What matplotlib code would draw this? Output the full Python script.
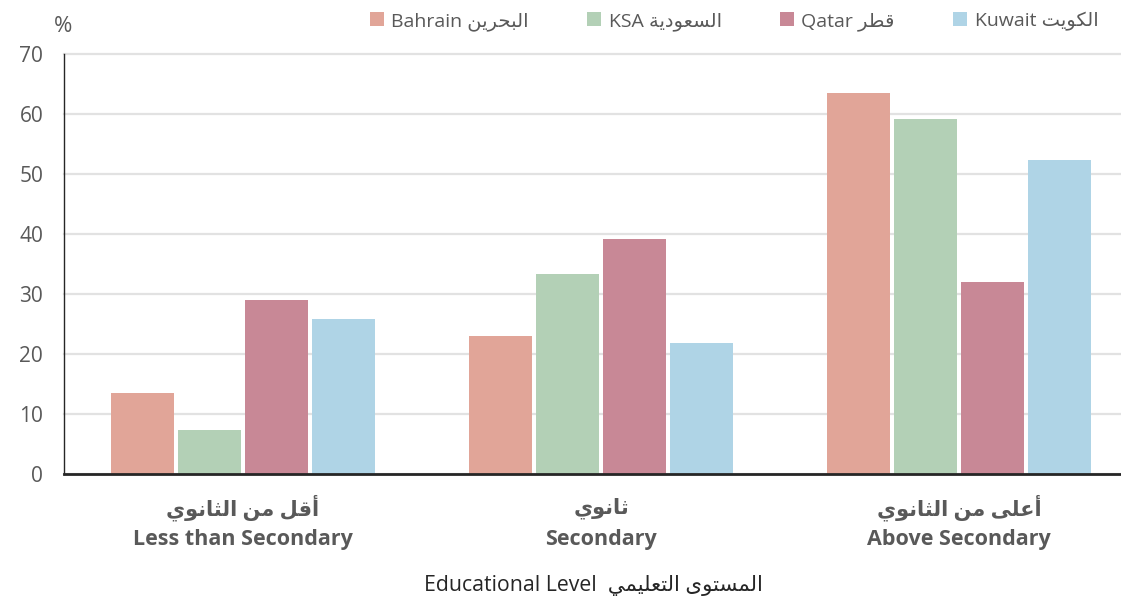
import matplotlib
matplotlib.use("Agg")
import matplotlib.pyplot as plt
import matplotlib.transforms as mtransforms
from matplotlib.patches import Patch
import numpy as np

plt.rcParams['font.family'] = ['Open Sans', 'DejaVu Sans']

# education level groups
levels_en = ["Less than Secondary", "Secondary", "Above Secondary"]
levels_ar = ["أقل من الثانوي", "ثانوي", "أعلى من الثانوي"]

# country series (%)
countries_en = ["Bahrain", "KSA", "Qatar", "Kuwait"]
countries_ar = ["البحرين", "السعودية", "قطر", "الكويت"]
bahrain = [13.5, 23.0, 63.5]
ksa = [7.4, 33.4, 59.1]
qatar = [29.0, 39.1, 32.0]
kuwait = [25.9, 21.8, 52.4]

colors = ["#E1A598", "#B3D0B6", "#C88896", "#AFD4E6"]
grey = "#595959"

# isolated, final, initial, medial presentation forms
FORMS = {
    "\u0627": (0xFE8D, 0xFE8E, None, None),
    "\u0623": (0xFE83, 0xFE84, None, None),
    "\u0628": (0xFE8F, 0xFE90, 0xFE91, 0xFE92),
    "\u0629": (0xFE93, 0xFE94, None, None),
    "\u062A": (0xFE95, 0xFE96, 0xFE97, 0xFE98),
    "\u062B": (0xFE99, 0xFE9A, 0xFE9B, 0xFE9C),
    "\u062D": (0xFEA1, 0xFEA2, 0xFEA3, 0xFEA4),
    "\u062F": (0xFEA9, 0xFEAA, None, None),
    "\u0631": (0xFEAD, 0xFEAE, None, None),
    "\u0633": (0xFEB1, 0xFEB2, 0xFEB3, 0xFEB4),
    "\u0637": (0xFEC1, 0xFEC2, 0xFEC3, 0xFEC4),
    "\u0639": (0xFEC9, 0xFECA, 0xFECB, 0xFECC),
    "\u0642": (0xFED5, 0xFED6, 0xFED7, 0xFED8),
    "\u0643": (0xFED9, 0xFEDA, 0xFEDB, 0xFEDC),
    "\u0644": (0xFEDD, 0xFEDE, 0xFEDF, 0xFEE0),
    "\u0645": (0xFEE1, 0xFEE2, 0xFEE3, 0xFEE4),
    "\u0646": (0xFEE5, 0xFEE6, 0xFEE7, 0xFEE8),
    "\u0648": (0xFEED, 0xFEEE, None, None),
    "\u0649": (0xFEEF, 0xFEF0, None, None),
    "\u064A": (0xFEF1, 0xFEF2, 0xFEF3, 0xFEF4),
}


# join arabic letters and put them in visual (left-to-right) order
def ar(text):
    out = []
    for i, ch in enumerate(text):
        if ch not in FORMS:
            out.append(ch)
            continue
        prev = text[i - 1] if i > 0 else ""
        nxt = text[i + 1] if i + 1 < len(text) else ""
        f = FORMS[ch]
        join_prev = prev in FORMS and FORMS[prev][2] is not None
        join_next = f[2] is not None and nxt in FORMS
        if join_prev and join_next:
            code = f[3]
        elif join_prev:
            code = f[1]
        elif join_next:
            code = f[2]
        else:
            code = f[0]
        out.append(chr(code))
    return "".join(reversed(out))


fig = plt.figure(figsize=(11.21, 6.05), dpi=100)
ax = fig.add_axes([64 / 1121, 131 / 605, 1057 / 1121, 420 / 605])

x = np.arange(len(levels_en))
step = 0.187
width = 0.176
series = [bahrain, ksa, qatar, kuwait]
for i, vals in enumerate(series):
    ax.bar(x + (i - 1.5) * step, vals, width, color=colors[i], zorder=3)

ax.set_xlim(-0.5, 2.452)
ax.set_ylim(0, 70)
ax.set_yticks(range(0, 71, 10))
ax.yaxis.grid(True, color="#E2E2E2", linewidth=1.6, zorder=0, clip_on=False)
ax.tick_params(axis="y", length=0, pad=15, labelsize=15, labelcolor=grey)
ax.set_xticks(x)
ax.set_xticklabels([])
ax.tick_params(axis="x", length=0)

# two-line category labels: arabic above, english below
trans = mtransforms.blended_transform_factory(ax.transData, fig.transFigure)
for xi, a, e in zip(x, levels_ar, levels_en):
    ax.text(xi, 1 - 508 / 605, ar(a), transform=trans, ha="center", va="center",
            fontsize=15, fontweight="bold", color=grey)
    ax.text(xi, 1 - 540 / 605, e, transform=trans, ha="center", va="center",
            fontsize=15.5, fontweight="bold", color=grey)

for s in ["top", "right"]:
    ax.spines[s].set_visible(False)
ax.spines["left"].set_color("#262626")
ax.spines["left"].set_linewidth(1.0)
ax.spines["bottom"].set_color("#262626")
ax.spines["bottom"].set_linewidth(2.0)
ax.spines["bottom"].set_zorder(4)

fig.text(63 / 1121, 1 - 26 / 605, "%", ha="center", va="center", fontsize=16, color=grey)

handles = [Patch(facecolor=c) for c in colors]
labels = [e + " " + ar(a) for e, a in zip(countries_en, countries_ar)]
fig.legend(handles, labels, ncol=4, loc="upper right", bbox_to_anchor=(1110 / 1121, 1.0),
           frameon=False, fontsize=14, labelcolor=grey, handlelength=0.7, handleheight=0.7,
           handletextpad=0.4, columnspacing=3.0, borderaxespad=0.2)

fig.text(593 / 1121, 1 - 585 / 605, "Educational Level  " + ar("المستوى التعليمي"),
         ha="center", va="center", fontsize=15.3, color="#262626")

fig.savefig("out.png", dpi=100)
